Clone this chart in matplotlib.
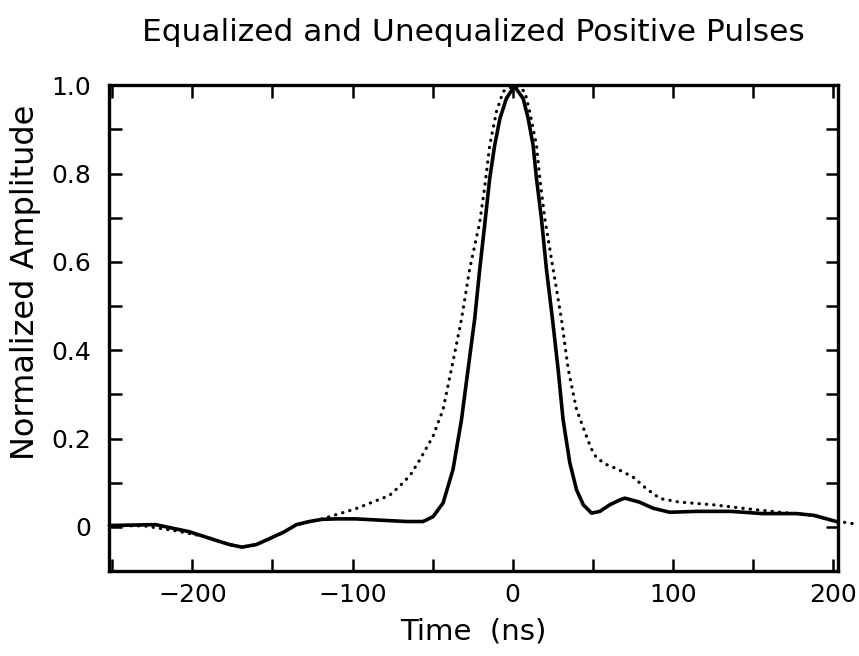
import matplotlib.pyplot as plt
from matplotlib.ticker import MultipleLocator, FuncFormatter

# equalized pulse (solid line)
eq_t = [-252, -223, -202, -185, -177, -169, -160, -152, -143, -135, -127,
        -119, -110, -98, -77, -66, -56, -49.8, -43.5, -37.3, -32, -27.9,
        -23.8, -20.6, -17.5, -14.4, -11.3, -8, -4, 1, 6.5, 9.6, 12.7, 14.8,
        17.9, 21, 24.8, 28.3, 31.4, 35.6, 39.8, 44, 49.2, 54.4, 60.6, 66.9,
        70, 79, 87.7, 98, 115, 136, 156, 177, 188, 202]
eq_a = [0.003, 0.005, -0.011, -0.031, -0.040, -0.046, -0.040, -0.027, -0.012,
        0.005, 0.012, 0.017, 0.018, 0.018, 0.014, 0.012, 0.012, 0.023, 0.054,
        0.13, 0.243, 0.357, 0.47, 0.584, 0.685, 0.789, 0.864, 0.925, 0.97,
        0.998, 0.97, 0.925, 0.864, 0.789, 0.698, 0.584, 0.47, 0.357, 0.243,
        0.145, 0.084, 0.05, 0.031, 0.035, 0.05, 0.061, 0.065, 0.056, 0.042,
        0.033, 0.035, 0.035, 0.030, 0.030, 0.026, 0.012]

# unequalized pulse (dotted line)
uneq_t = [-252, -230, -212, -191, -177, -169, -160, -152, -143, -135, -119,
          -98, -77, -70.6, -64, -58, -49.8, -43.5, -38.3, -32, -26.9, -20.6,
          -17.5, -14.4, -10.2, -6, 1, 7.5, 10.6, 14.8, 16.9, 20, 25.2, 30.4,
          34.6, 39.8, 46, 49, 52.3, 58.6, 65.8, 75, 83.5, 92, 104, 125, 146,
          167, 188, 200, 213]
uneq_a = [0.003, 0.002, -0.008, -0.023, -0.040, -0.046, -0.040, -0.027,
          -0.012, 0.005, 0.018, 0.041, 0.071, 0.092, 0.117, 0.152, 0.205,
          0.266, 0.357, 0.47, 0.584, 0.69, 0.77, 0.864, 0.94, 0.986, 1.0,
          0.986, 0.94, 0.864, 0.789, 0.698, 0.584, 0.47, 0.357, 0.266, 0.205,
          0.177, 0.156, 0.141, 0.13, 0.113, 0.086, 0.064, 0.056, 0.050, 0.041,
          0.033, 0.026, 0.014, 0.007]

plt.rcParams['font.family'] = 'DejaVu Sans'

fig = plt.figure(figsize=(8.59, 6.56), dpi=100)
ax = fig.add_axes([0.127, 0.1296, 0.8485, 0.7404])

ax.plot(eq_t, eq_a, color='black', lw=2.6, solid_joinstyle='round')
ax.plot(uneq_t, uneq_a, color='black', lw=2.3, linestyle=(0, (0.1, 2.2)),
        dash_capstyle='round', clip_on=False)

ax.set_xlim(-252, 203)
ax.set_ylim(-0.1, 1.0)

ax.xaxis.set_major_locator(MultipleLocator(100))
ax.xaxis.set_minor_locator(MultipleLocator(50))
ax.yaxis.set_major_locator(MultipleLocator(0.2))
ax.yaxis.set_minor_locator(MultipleLocator(0.1))
ax.yaxis.set_major_formatter(FuncFormatter(
    lambda v, p: '0' if abs(v) < 1e-9 else '%.1f' % v))

ax.tick_params(which='both', direction='in', top=True, right=True,
               length=9, width=1.8)
ax.tick_params(axis='both', labelsize=18)
ax.tick_params(axis='x', pad=9)
ax.tick_params(axis='y', pad=13)
for s in ax.spines.values():
    s.set_linewidth(2.4)

ax.set_xlabel('Time  (ns)', fontsize=21, labelpad=7)
ax.set_ylabel('Normalized Amplitude', fontsize=23)
ax.yaxis.set_label_coords(-0.094, 0.595)
fig.text(0.551, 0.951, 'Equalized and Unequalized Positive Pulses',
         ha='center', va='center', fontsize=22.5)

fig.savefig('out.png', dpi=100)
